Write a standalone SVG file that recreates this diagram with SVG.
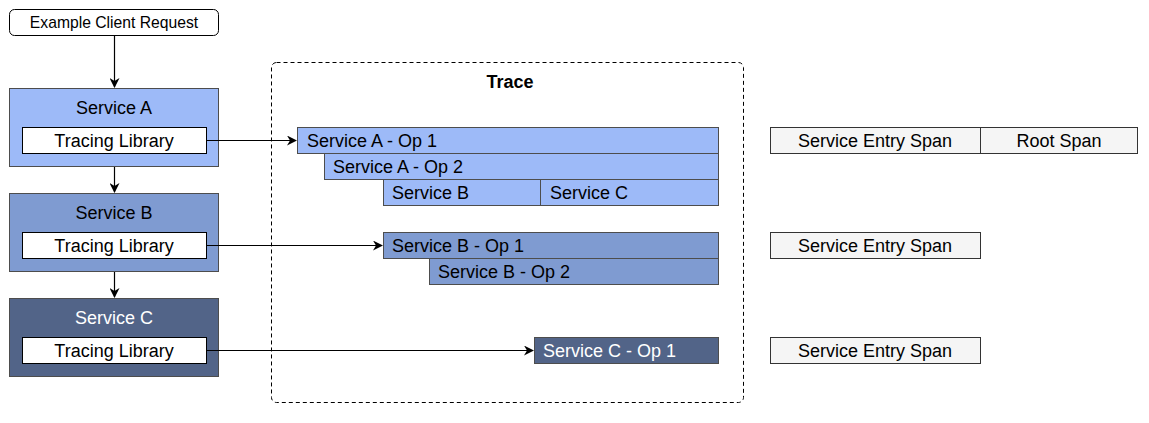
<svg xmlns="http://www.w3.org/2000/svg" width="1149" height="423" viewBox="0 0 1149 423">
<style>
text{font-family:"Liberation Sans",Arial,sans-serif;font-size:18px;fill:#000}
.sm{font-size:15.7px}
.b{font-weight:bold}
.w{fill:#fff}
.svcA{fill:#9dbaf8;stroke:#4d4d4d;stroke-width:1}
.svcB{fill:#7f9bd1;stroke:#4d4d4d;stroke-width:1}
.svcC{fill:#526488;stroke:#4d4d4d;stroke-width:1}
.lib{fill:#fff;stroke:#000;stroke-width:1}
.span{fill:#f5f5f5;stroke:#333;stroke-width:1}
.edge{fill:none;stroke:#000;stroke-width:1.2}
</style>
<defs>
<marker id="ah" viewBox="0 0 10 10" refX="9" refY="5" markerWidth="10" markerHeight="10" markerUnits="userSpaceOnUse" orient="auto">
<path d="M0,0 L10,5 L0,10 L3,5 Z" fill="#000"/>
</marker>
</defs>
<g id="trace">
<rect x="271.5" y="62.5" width="472" height="340" rx="5" fill="none" stroke="#000" stroke-dasharray="4 3"/>
<text x="510" y="88" text-anchor="middle" class="b">Trace</text>
</g>
<g id="client">
<rect x="9.5" y="9.5" width="209" height="26" rx="5" fill="#fff" stroke="#000"/>
<text x="114" y="28" text-anchor="middle" class="sm">Example Client Request</text>
</g>
<g id="serviceA">
<rect x="9.5" y="88.5" width="209" height="78" class="svcA"/>
<text x="114" y="113.5" text-anchor="middle">Service A</text>
<g id="libA">
<rect x="22.5" y="127.5" width="184" height="26" class="lib"/>
<text x="114" y="146.5" text-anchor="middle">Tracing Library</text>
</g>
</g>
<g id="serviceB">
<rect x="9.5" y="193.5" width="209" height="78" class="svcB"/>
<text x="114" y="218.5" text-anchor="middle">Service B</text>
<g id="libB">
<rect x="22.5" y="232.5" width="184" height="26" class="lib"/>
<text x="114" y="251.5" text-anchor="middle">Tracing Library</text>
</g>
</g>
<g id="serviceC">
<rect x="9.5" y="298.5" width="209" height="78" class="svcC"/>
<text x="114" y="323.5" text-anchor="middle" class="w">Service C</text>
<g id="libC">
<rect x="22.5" y="337.5" width="184" height="26" class="lib"/>
<text x="114" y="356.5" text-anchor="middle">Tracing Library</text>
</g>
</g>
<g id="spanA1">
<rect x="297.5" y="127.5" width="421" height="26" class="svcA"/>
<text x="307" y="146.5">Service A - Op 1</text>
</g>
<g id="spanA2">
<rect x="324.5" y="153.5" width="394" height="26" class="svcA"/>
<text x="333" y="172.5">Service A - Op 2</text>
</g>
<g id="spanAB">
<rect x="383.5" y="179.5" width="157" height="26" class="svcA"/>
<text x="392" y="198.5">Service B</text>
</g>
<g id="spanAC">
<rect x="540.5" y="179.5" width="178" height="26" class="svcA"/>
<text x="550" y="198.5">Service C</text>
</g>
<g id="spanB1">
<rect x="383.5" y="232.5" width="335" height="26" class="svcB"/>
<text x="392" y="251.5">Service B - Op 1</text>
</g>
<g id="spanB2">
<rect x="429.5" y="258.5" width="289" height="26" class="svcB"/>
<text x="438" y="277.5">Service B - Op 2</text>
</g>
<g id="spanC1">
<rect x="534.5" y="337.5" width="184" height="26" class="svcC"/>
<text x="543" y="356.5" class="w">Service C - Op 1</text>
</g>
<g id="entryA">
<rect x="770.5" y="127.5" width="210" height="26" class="span"/>
<text x="875" y="146.5" text-anchor="middle">Service Entry Span</text>
</g>
<g id="rootA">
<rect x="980.5" y="127.5" width="157" height="26" class="span"/>
<text x="1059" y="146.5" text-anchor="middle">Root Span</text>
</g>
<g id="entryB">
<rect x="770.5" y="232.5" width="210" height="26" class="span"/>
<text x="875" y="251.5" text-anchor="middle">Service Entry Span</text>
</g>
<g id="entryC">
<rect x="770.5" y="337.5" width="210" height="26" class="span"/>
<text x="875" y="356.5" text-anchor="middle">Service Entry Span</text>
</g>
<g id="connectors">
<path class="edge" d="M114.5,36 V87" marker-end="url(#ah)"/>
<path class="edge" d="M114.5,167 V192" marker-end="url(#ah)"/>
<path class="edge" d="M114.5,272 V297" marker-end="url(#ah)"/>
<path class="edge" d="M207,140.5 H296" marker-end="url(#ah)"/>
<path class="edge" d="M207,245.5 H382" marker-end="url(#ah)"/>
<path class="edge" d="M207,350.5 H533" marker-end="url(#ah)"/>
</g>
</svg>
